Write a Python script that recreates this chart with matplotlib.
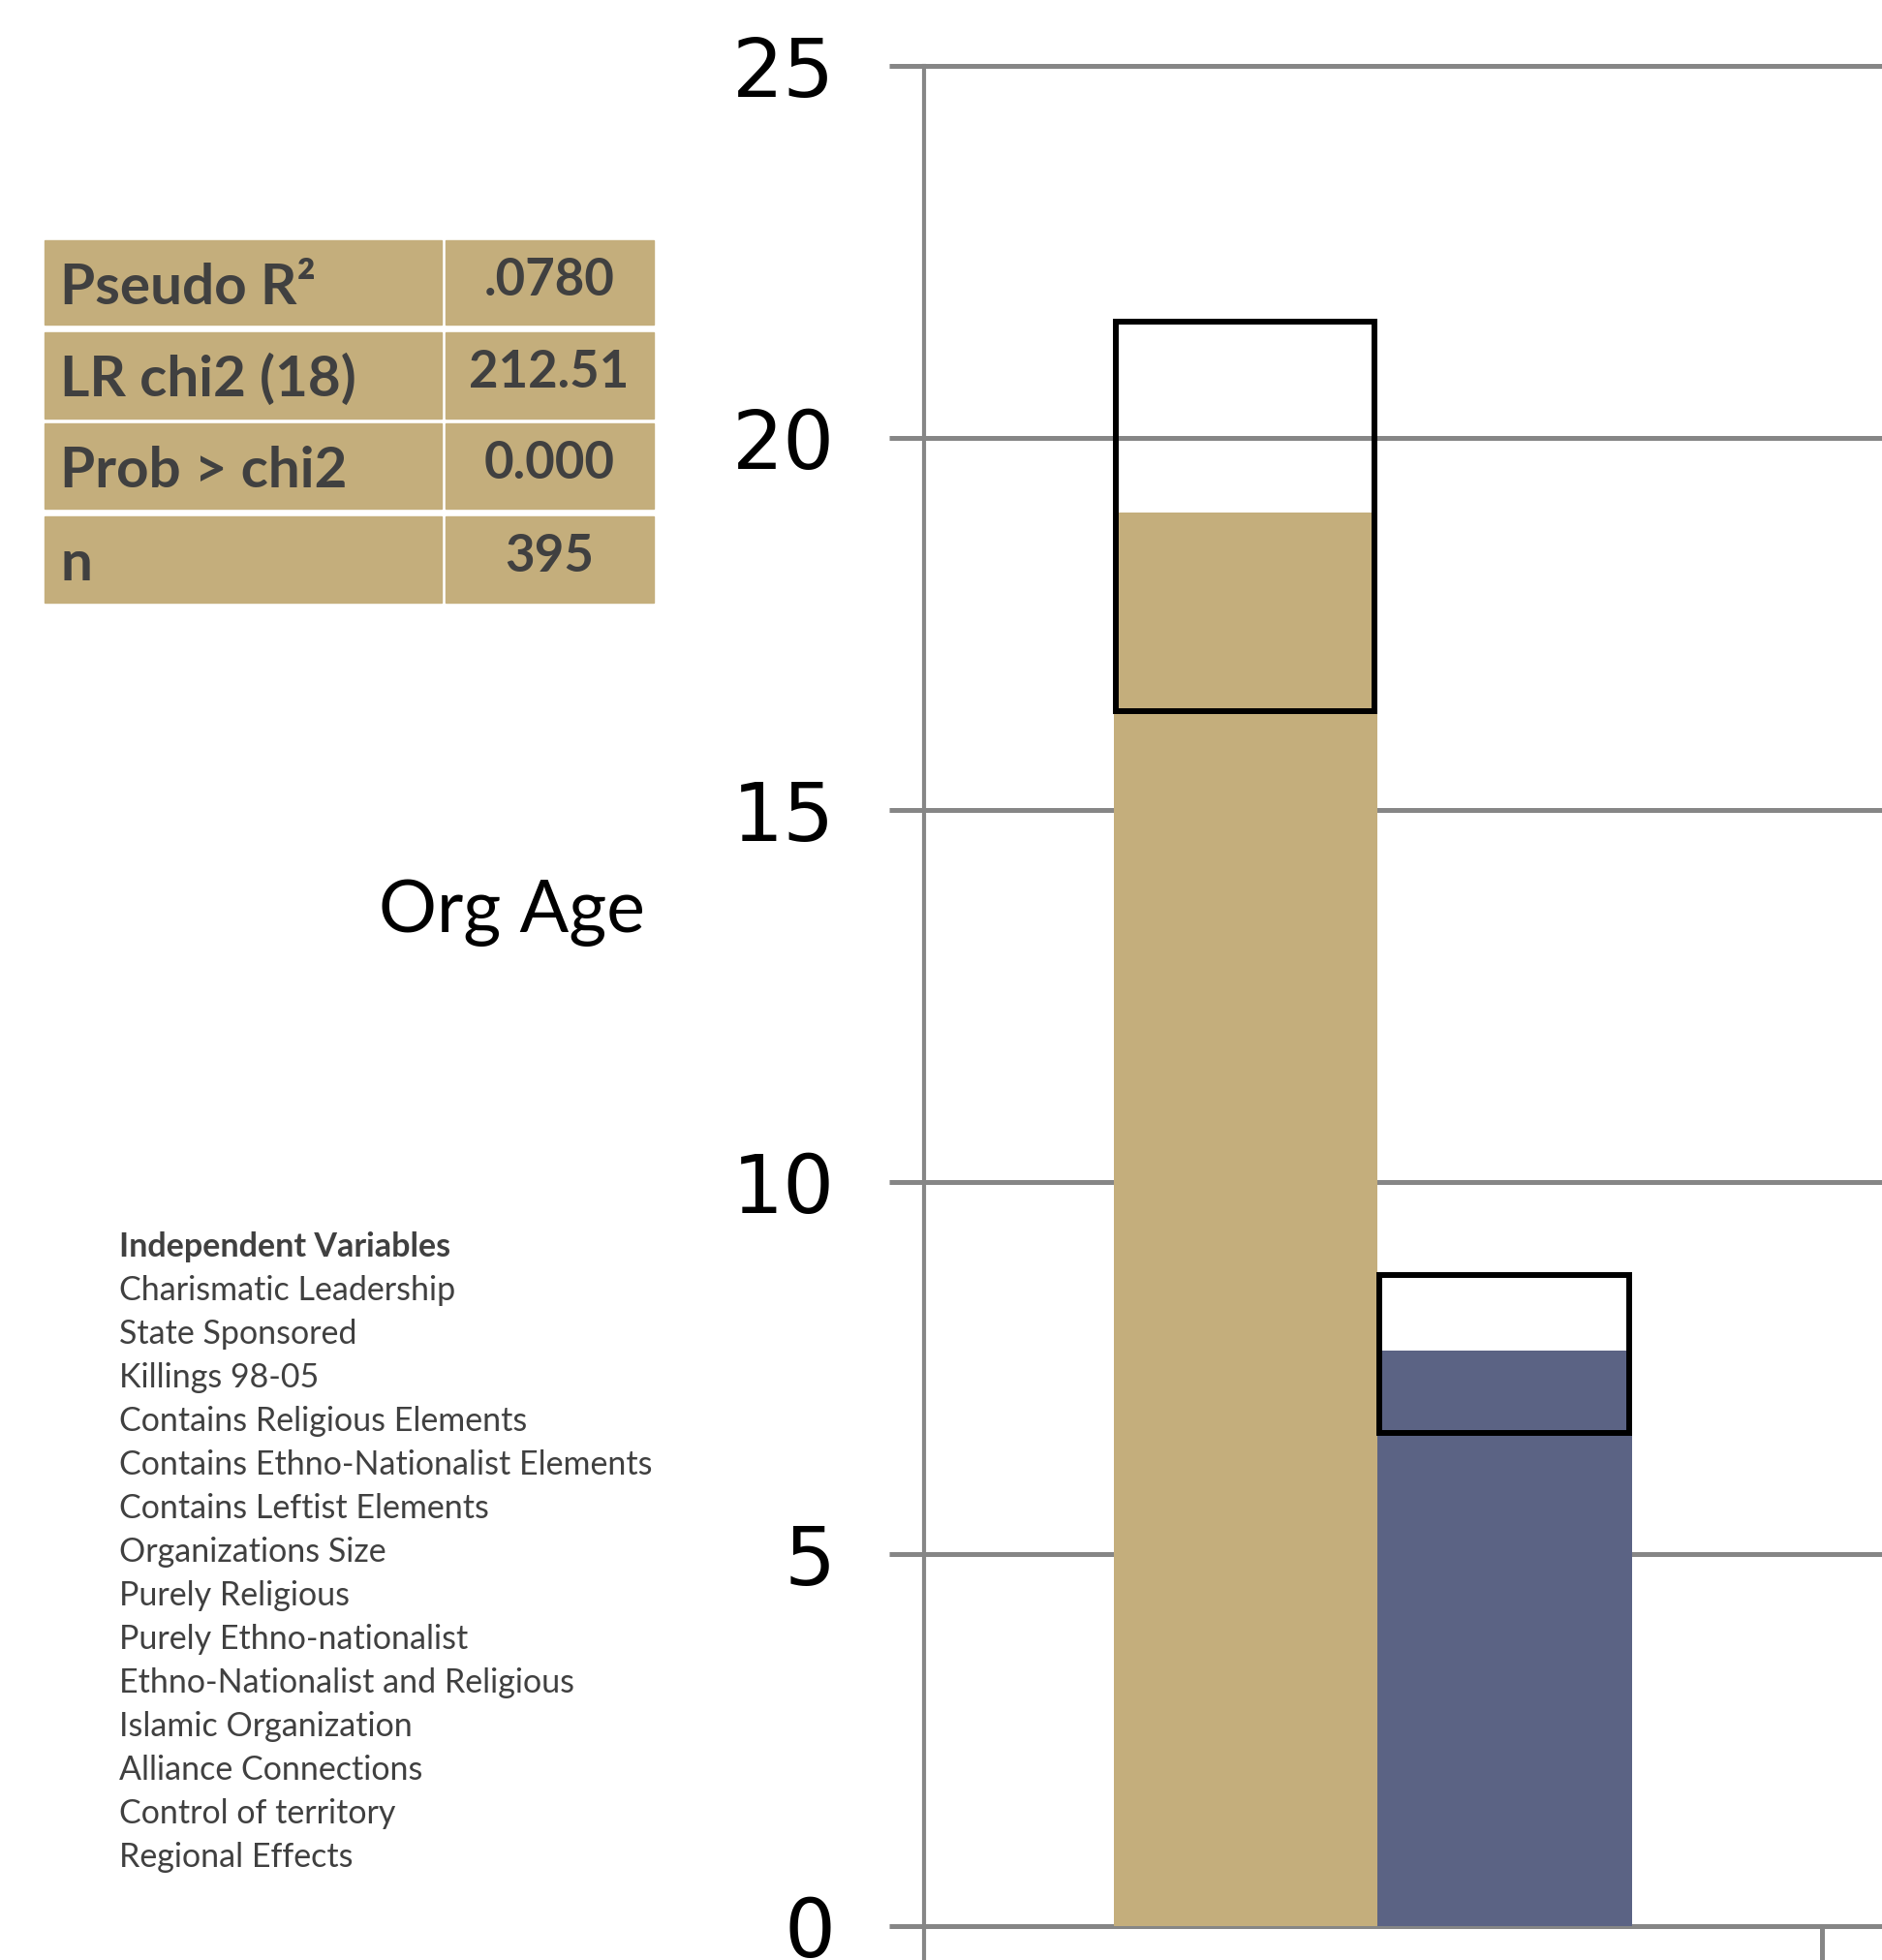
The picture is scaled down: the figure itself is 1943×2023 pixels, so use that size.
import matplotlib
matplotlib.use('Agg')
import matplotlib.pyplot as plt
from matplotlib.patches import Rectangle

# chart values
yticks = [0, 5, 10, 15, 20, 25]
bar_labels = ["Org Age (gold)", "Org Age (blue)"]
bar_values = [19.0, 7.73]
ci_low = [16.33, 6.63]
ci_high = [21.56, 8.75]
bar_colors = ['#c4ae7c', '#5b6384']

stat_names = ["Pseudo R\u00b2", "LR chi2 (18)", "Prob > chi2", "n"]
stat_values = [".0780", "212.51", "0.000", "395"]

var_title = "Independent Variables"
var_names = ["Charismatic Leadership", "State Sponsored", "Killings 98-05",
             "Contains Religious Elements", "Contains Ethno-Nationalist Elements",
             "Contains Leftist Elements", "Organizations Size", "Purely Religious",
             "Purely Ethno-nationalist", "Ethno-Nationalist and Religious",
             "Islamic Organization", "Alliance Connections", "Control of territory",
             "Regional Effects"]

W, H = 1943, 2023
fig = plt.figure(figsize=(W / 100, H / 100), dpi=100)

fx = lambda x: x / W
fy = lambda y: 1 - y / H

gray = '#868686'
txtgray = '#404040'

# axes: y=0 at px 1988, 76.8 px per unit
ax = fig.add_axes([fx(954), 0, 1 - fx(954), (H - 40) / H])
ax.set_ylim(-35 / 76.8, (1988 - 40) / 76.8)
ax.set_xlim(0, (W - 954) / 927.)

xs = [0.358, 0.6467]
ax.bar(xs, bar_values, width=[0.2934, 0.284], color=bar_colors, zorder=3)
heights = [h - l for h, l in zip(ci_high, ci_low)]
ax.bar([0.3576, 0.6465], heights, bottom=ci_low, width=[0.288, 0.278],
       fill=False, edgecolor='black', linewidth=4.3, zorder=4)

ax.set_yticks(yticks)
ax.yaxis.grid(True, color=gray, linewidth=3.6, zorder=1)
ax.tick_params(axis='y', length=26, width=3.6, color=gray, pad=40,
               labelsize=60, direction='out')
for lab in ax.get_yticklabels():
    lab.set_fontfamily('DejaVu Sans')
    lab.set_color('black')
ax.set_xticks([])
for s in ['top', 'right', 'bottom']:
    ax.spines[s].set_visible(False)
ax.spines['left'].set_color(gray)
ax.spines['left'].set_linewidth(3)
ax.spines['left'].set_bounds(-35 / 76.8, 25)
ax.vlines([1.0], -35 / 76.8, 0, color=gray, linewidth=3.6, zorder=2)

# stats table
row_tops = [248, 343, 437, 533]
row_bots = [335, 432, 525, 622]
for name, val, t, b in zip(stat_names, stat_values, row_tops, row_bots):
    fig.patches.append(Rectangle((fx(46), fy(b)), fx(456 - 46), (b - t) / H,
                                 transform=fig.transFigure, color=bar_colors[0]))
    fig.patches.append(Rectangle((fx(460), fy(b)), fx(675 - 460), (b - t) / H,
                                 transform=fig.transFigure, color=bar_colors[0]))
    fig.text(fx(62), fy(t + 66), name, fontsize=42, fontweight='bold',
             family='Lato', color=txtgray, va='baseline', ha='left')
    fig.text(fx(567), fy(t + 57), val, fontsize=38, fontweight='bold',
             family='Lato', color=txtgray, va='baseline', ha='center')

fig.text(fx(666), fy(962), "Org Age", fontsize=54, family='Lato',
         color='black', ha='right', va='baseline')

fig.text(fx(123), fy(1297), var_title, fontsize=24.5, fontweight='bold',
         family='Lato', color=txtgray, va='baseline')
for i, v in enumerate(var_names):
    fig.text(fx(123), fy(1297 + 45 * (i + 1)), v, fontsize=24.5,
             family='Lato', color=txtgray, va='baseline')

plt.savefig('out.png', dpi=100)
